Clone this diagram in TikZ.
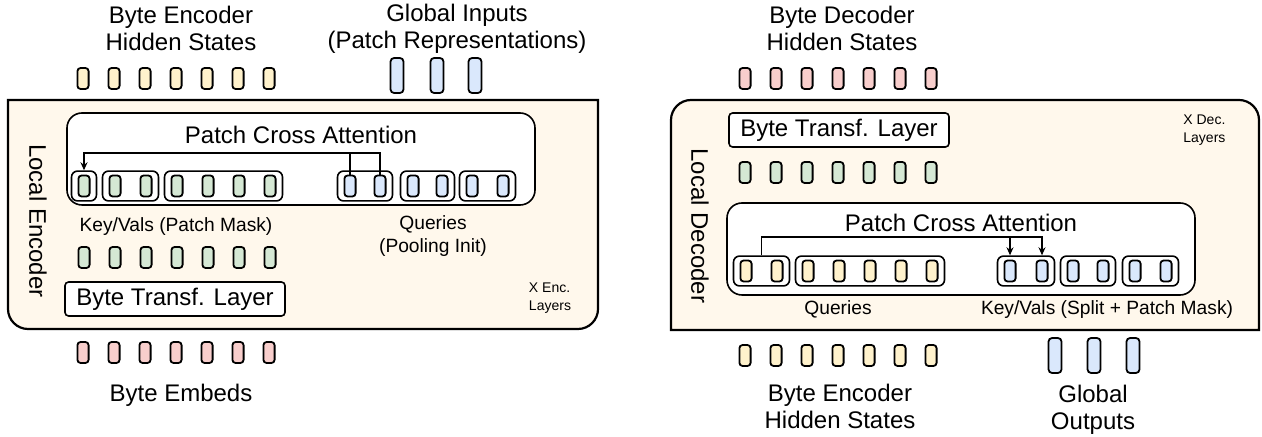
\documentclass[tikz,border=0pt]{standalone}
\usepackage{fontspec}
\setmainfont{Liberation Sans}
\usetikzlibrary{fit,arrows.meta}
\definecolor{cyel}{HTML}{FFF2CC}
\definecolor{cgrn}{HTML}{D5E8D4}
\definecolor{cblu}{HTML}{DAE8FC}
\definecolor{cred}{HTML}{F8CECC}
\definecolor{couter}{HTML}{FFF8EC}
\tikzset{
  cell/.style={draw, line width=0.9pt, rounded corners=1.6pt, minimum width=5.6pt, minimum height=10.5pt, inner sep=0pt},
  gcell/.style={draw, line width=0.9pt, rounded corners=1.8pt, fill=cblu, minimum width=6.5pt, minimum height=17.5pt, inner sep=0pt},
  grp/.style={draw, line width=0.8pt, rounded corners=3pt, inner xsep=3pt, inner ysep=1.75pt},
  inbox/.style={draw, line width=0.8pt, fill=white, rounded corners=7.5pt, minimum width=234pt, minimum height=46pt, inner sep=0pt},
  layerbox/.style={draw, line width=0.8pt, fill=white, rounded corners=1.8pt, minimum width=110pt, minimum height=17pt, inner sep=0pt, font=\fontsize{12}{14}\selectfont},
  outer/.style={draw, line width=1.1pt, fill=couter},
  big/.style={font=\fontsize{12}{13.5}\selectfont, align=center, inner sep=0pt},
  small/.style={font=\fontsize{9.6}{11.5}\selectfont, align=center, inner sep=0pt},
  tiny/.style={font=\fontsize{7}{9}\selectfont, align=left, inner sep=0pt},
  conn/.style={line width=0.8pt},
  tip/.style={-{Stealth[length=4pt,width=3.5pt]}}
}
\begin{document}
\begin{tikzpicture}[x=0.5pt,y=-0.5pt]
\useasboundingbox (0,0) rectangle (1262,437);

% ================= ENCODER =================
\draw[outer] (8,100) -- (598,100) -- (598,309) .. controls (598,320) and (589,329) .. (578,329) -- (28,329) .. controls (17,329) and (8,320) .. (8,309) -- cycle;

\node[big] (enctoplbl) at (181,28.5) {Byte Encoder\\Hidden States};
\node[big] (ginlbl) at (457,28.5) {Global Inputs\\(Patch Representations)};
\foreach \i in {1,...,7} {
  \node[cell, fill=cyel] (ety\i) at ({83+31*(\i-1)},78.5) {};
}
\node[gcell] (gin1) at (397,75.5) {};
\node[gcell] (gin2) at (437,75.5) {};
\node[gcell] (gin3) at (475,75.5) {};

\node[inbox] (encpca) at (301,159) {};
\node[big] (encpcalbl) at (301,135) {Patch Cross Attention};

\foreach \i in {1,...,7} {
  \node[cell, fill=cgrn] (ek\i) at ({84+31*(\i-1)},186) {};
}
\node[grp, fit=(ek1)] (ekg1) {};
\node[grp, fit=(ek2)(ek3)] (ekg2) {};
\node[grp, fit=(ek4)(ek7)] (ekg3) {};

\foreach \i/\x in {1/350,2/380,3/413,4/442,5/472,6/503} {
  \node[cell, fill=cblu] (eq\i) at (\x,186) {};
}
\node[grp, fit=(eq1)(eq2)] (eqg1) {};
\node[grp, fit=(eq3)(eq4)] (eqg2) {};
\node[grp, fit=(eq5)(eq6)] (eqg3) {};

\coordinate (encbar) at (0,153);
\draw[conn] (eq2.north) -- (eq2.north |- encbar) -- (eq1.north |- encbar);
\draw[conn,tip] (eq1.north) -- (eq1.north |- encbar) -| (ekg1.north);

\node[small] (kvlbl) at (176,227) {Key/Vals (Patch Mask)};
\node[small] (qlbl) at (433,236.5) {Queries\\(Pooling Init)};

\foreach \i in {1,...,7} {
  \node[cell, fill=cgrn] (eg\i) at ({84+31*(\i-1)},257.5) {};
}
\node[layerbox] (encbtl) at (175,299) {Byte Transf. Layer};
\node[tiny] (enclayers) at (550,298) {X Enc.\\Layers};
\node[big, rotate=-90] (enclocal) at (38,221) {Local Encoder};

\foreach \i in {1,...,7} {
  \node[cell, fill=cred] (er\i) at ({83+31*(\i-1)},352.5) {};
}
\node[big] (embeds) at (181,395) {Byte Embeds};

% ================= DECODER =================
\draw[outer] (671,330) -- (671,120) .. controls (671,109) and (680,100) .. (691,100) -- (1239,100) .. controls (1250,100) and (1259,109) .. (1259,120) -- (1259,330) -- cycle;

\node[big] (dectoplbl) at (842,28.5) {Byte Decoder\\Hidden States};
\foreach \i in {1,...,7} {
  \node[cell, fill=cred] (dr\i) at ({745+31*(\i-1)},78.5) {};
}
\node[layerbox] (decbtl) at (839,130) {Byte Transf. Layer};
\node[tiny, anchor=west] (declayers) at (1183,130) {X Dec.\\Layers};
\foreach \i in {1,...,7} {
  \node[cell, fill=cgrn] (dg\i) at ({745+31*(\i-1)},172.5) {};
}

\node[inbox] (decpca) at (961,249) {};
\node[big] (decpcalbl) at (961,223) {Patch Cross Attention};

\foreach \i in {1,...,7} {
  \node[cell, fill=cyel] (dq\i) at ({746+31*(\i-1)},271) {};
}
\node[grp, fit=(dq1)(dq2)] (dqg1) {};
\node[grp, fit=(dq3)(dq7)] (dqg2) {};

\foreach \i/\x in {1/1010,2/1042,3/1073,4/1103,5/1135,6/1166} {
  \node[cell, fill=cblu] (dk\i) at (\x,271) {};
}
\node[grp, fit=(dk1)(dk2)] (dkg1) {};
\node[grp, fit=(dk3)(dk4)] (dkg2) {};
\node[grp, fit=(dk5)(dk6)] (dkg3) {};

\coordinate (decbar) at (0,237);
\draw[conn,tip] (dqg1.north) |- (dk1.north |- decbar) -- (dk1.north |- dkg1.north);
\draw[conn,tip] (dk1.north |- decbar) -- (dk2.north |- decbar) -- (dk2.north |- dkg1.north);

\node[small] (dqlbl) at (838,309) {Queries};
\node[small] (dkvlbl) at (1107,310) {Key/Vals (Split + Patch Mask)};
\node[big, rotate=-90] (declocal) at (700,226) {Local Decoder};

\foreach \i in {1,...,7} {
  \node[cell, fill=cyel] (dy\i) at ({745+31*(\i-1)},355.5) {};
}
\node[big] (decbotlbl) at (840,406.5) {Byte Encoder\\Hidden States};
\node[gcell] (gout1) at (1055,355.5) {};
\node[gcell] (gout2) at (1094,355.5) {};
\node[gcell] (gout3) at (1133,355.5) {};
\node[big] (goutlbl) at (1093,410) {Global\\Outputs};
\end{tikzpicture}
\end{document}
